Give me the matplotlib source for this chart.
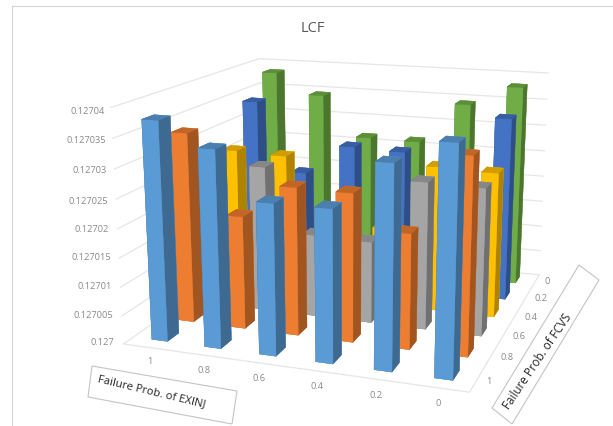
import numpy as np
import matplotlib
matplotlib.use('Agg')
import matplotlib.pyplot as plt
from matplotlib.patches import Polygon
from matplotlib.lines import Line2D

plt.rcParams['font.family'] = ['Open Sans', 'DejaVu Sans']

# ---------- data ----------
exinj_labels = ['1', '0.8', '0.6', '0.4', '0.2', '0']
fcvs_labels = ['1', '0.8', '0.6', '0.4', '0.2', '0']
z_labels = ['0.127', '0.127005', '0.12701', '0.127015', '0.12702',
            '0.127025', '0.12703', '0.127035', '0.12704']
z_ticks = [0.127, 0.127005, 0.12701, 0.127015, 0.12702,
           0.127025, 0.12703, 0.127035, 0.12704]
# one list per FCVS value, in EXINJ order 1 ... 0
fcvs_1 = [0.1270377, 0.1270337, 0.1270257, 0.1270257, 0.1270337, 0.1270375]
fcvs_08 = [0.1270337, 0.1270200, 0.1270259, 0.1270258, 0.1270199, 0.1270335]
fcvs_06 = [0.1270260, 0.1270264, 0.1270149, 0.1270146, 0.1270261, 0.1270259]
fcvs_04 = [0.1270266, 0.1270263, 0.1270146, 0.1270144, 0.1270265, 0.1270262]
fcvs_02 = [0.1270341, 0.1270209, 0.1270267, 0.1270264, 0.1270205, 0.1270339]
fcvs_0 = [0.1270383, 0.1270343, 0.1270265, 0.1270264, 0.1270342, 0.1270380]
series = [fcvs_1, fcvs_08, fcvs_06, fcvs_04, fcvs_02, fcvs_0]

colors = ['#5B9BD5', '#ED7D31', '#A5A5A5', '#FFC000', '#4472C4', '#70AD47']
grid_c = '#E6E6E6'
W, H = 613, 427
bar_w = 0.3
bar_d = 0.42


def shade(c, f):
    r = matplotlib.colors.to_rgb(c)
    return tuple(v * f for v in r)


fig = plt.figure(figsize=(W / 100, H / 100), dpi=100, facecolor='white')
S = 505.706
ax = fig.add_axes([88.859 / W, -34.018 / H, S / W, S / H], projection='3d')
ax.patch.set_alpha(0)
ax.set_axis_off()
ax.computed_zorder = False
ax.view_init(elev=14.851, azim=-70.857)
ax.set_proj_type('persp', focal_length=0.4259)
ax.set_box_aspect((0.79387, 0.79111, 0.53756))
ax.set_xlim(0, 6, view_margin=0)
ax.set_ylim(0, 6, view_margin=0)
ax.set_zlim(0.127, 0.12704, view_margin=0)

# wall gridlines and floor edges
zmin = z_ticks[0]
for z in z_ticks:
    ax.plot([0, 0, 6], [0, 6, 6], [z, z, z], color=grid_c, lw=0.9, zorder=1)
ax.plot([0, 6, 6], [0, 0, 6], [zmin, zmin, zmin], color=grid_c, lw=0.9, zorder=1)

# bars: back rows first, left to right
pad = (1 - bar_w) / 2
for j, vals in enumerate(series):
    c = colors[j]
    face = c
    top = shade(c, 0.82)
    side = shade(c, 0.68)
    fc = [top, top, face, face, side, side]
    for i, v in enumerate(vals):
        ax.bar3d(i + pad, j + pad, zmin, bar_w, bar_d, v - zmin, color=fc,
                 shade=False, edgecolor=fc, linewidth=0.25,
                 zorder=10 + (5 - j) * 10 + i)


def px(x, y):
    return x / W, 1 - y / H


tick_c = '#8A8A8A'
z_pos = [(114, 343), (113, 316), (112, 287), (111, 258), (109, 230),
         (108, 201), (107, 171), (106, 141), (105, 111)]
for lab, (x, y) in zip(z_labels, z_pos):
    fig.text(*px(x, y), lab, ha='right', va='center', fontsize=6.7, color=tick_c)
ex_pos = [(150, 362), (204, 371), (259, 379), (317, 387), (376, 396), (438, 404)]
for lab, (x, y) in zip(exinj_labels, ex_pos):
    fig.text(*px(x, y), lab, ha='center', va='center', fontsize=6.7, color=tick_c)
fc_pos = [(489, 382), (507, 358), (519, 337), (531, 317), (541, 299), (547, 282)]
for lab, (x, y) in zip(fcvs_labels, fc_pos):
    fig.text(*px(x, y), lab, ha='center', va='center', fontsize=6.7, color=tick_c)

fig.text(*px(313, 29), 'LCF', ha='center', va='center', fontsize=10.5, color='#595959')

# axis title boxes
box1 = [(92, 367), (237, 392), (232, 425), (88, 398)]
box2 = [(579, 266), (599, 281), (512, 425), (492, 409)]
for b in (box1, box2):
    fig.add_artist(Polygon([px(*p) for p in b], closed=True, facecolor='white',
                           edgecolor='#C4C4C4', lw=0.8, transform=fig.transFigure))
fig.text(*px(152, 392), 'Failure Prob. of EXINJ', ha='center', va='center',
         rotation=-13.5, rotation_mode='anchor', fontsize=8.1, color='#262626')
fig.text(*px(537, 362), 'Failure Prob. of FCVS', ha='center', va='center',
         rotation=56, rotation_mode='anchor', fontsize=8.4, color='#262626')

# chart frame
fig.add_artist(Line2D([11.5 / W, 11.5 / W], [0, 1 - 7 / H], color='#D4D4D4', lw=0.8))
fig.add_artist(Line2D([11.5 / W, 1], [1 - 7 / H, 1 - 7 / H], color='#D4D4D4', lw=0.8))

fig.savefig('out.png', dpi=100)
